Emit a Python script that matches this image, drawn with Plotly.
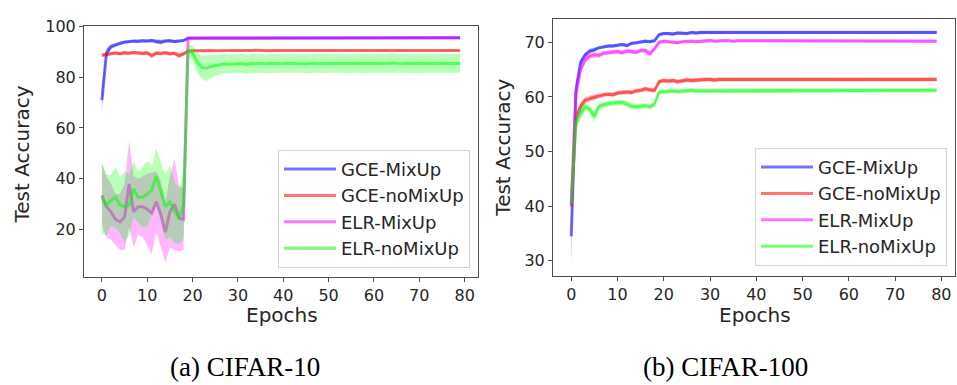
import numpy as np
import plotly.graph_objects as go

epochs = list(range(80))
x_ticks = [0, 10, 20, 30, 40, 50, 60, 70, 80]
c10_y_ticks = [20, 40, 60, 80, 100]
c100_y_ticks = [30, 40, 50, 60, 70]
series_names = ["GCE-MixUp", "GCE-noMixUp", "ELR-MixUp", "ELR-noMixUp"]

# ---------------- CIFAR-10 (mean and std over runs) ----------------
c10_gce_mix = [
    71.0, 89.5, 92.0, 92.8, 93.3, 93.8, 94.0, 94.2, 94.1, 94.3,
    94.2, 94.4, 94.0, 93.8, 94.2, 94.3, 94.0, 94.3, 94.4, 95.3,
    95.3, 95.4, 95.4, 95.3, 95.4, 95.4, 95.5, 95.4, 95.4, 95.5,
    95.4, 95.5, 95.5, 95.4, 95.5, 95.5, 95.4, 95.5, 95.5, 95.5,
    95.4, 95.5, 95.5, 95.5, 95.5, 95.4, 95.5, 95.5, 95.5, 95.5,
    95.5, 95.4, 95.5, 95.5, 95.5, 95.5, 95.5, 95.5, 95.4, 95.5,
    95.5, 95.5, 95.5, 95.5, 95.5, 95.5, 95.4, 95.5, 95.5, 95.5,
    95.5, 95.5, 95.5, 95.4, 95.5, 95.5, 95.5, 95.5, 95.5, 95.5,
]
c10_gce_mix_std = [
    4.5, 2.0, 1.0, 0.8, 0.7, 0.6, 0.6, 0.6, 0.7, 0.6,
    0.6, 0.7, 0.8, 0.9, 0.6, 0.6, 0.6, 0.5, 0.5, 0.3,
    0.3, 0.3, 0.3, 0.3, 0.3, 0.3, 0.3, 0.3, 0.3, 0.3,
    0.3, 0.3, 0.3, 0.3, 0.3, 0.3, 0.3, 0.3, 0.3, 0.3,
    0.3, 0.3, 0.3, 0.3, 0.3, 0.3, 0.3, 0.3, 0.3, 0.3,
    0.3, 0.3, 0.3, 0.3, 0.3, 0.3, 0.3, 0.3, 0.3, 0.3,
    0.3, 0.3, 0.3, 0.3, 0.3, 0.3, 0.3, 0.3, 0.3, 0.3,
    0.3, 0.3, 0.3, 0.3, 0.3, 0.3, 0.3, 0.3, 0.3, 0.3,
]
c10_gce_nomix = [
    88.6, 89.0, 89.3, 89.5, 89.2, 89.6, 89.4, 89.7, 89.5, 89.3,
    89.6, 88.4, 89.5, 89.3, 89.6, 89.2, 89.4, 88.5, 89.2, 90.2,
    90.4, 90.5, 90.3, 90.4, 90.5, 90.4, 90.5, 90.5, 90.4, 90.5,
    90.5, 90.4, 90.5, 90.5, 90.6, 90.5, 90.5, 90.4, 90.5, 90.5,
    90.5, 90.5, 90.6, 90.5, 90.5, 90.5, 90.4, 90.5, 90.5, 90.5,
    90.6, 90.5, 90.5, 90.5, 90.5, 90.4, 90.5, 90.5, 90.6, 90.5,
    90.5, 90.5, 90.5, 90.5, 90.4, 90.5, 90.5, 90.5, 90.5, 90.6,
    90.5, 90.5, 90.5, 90.5, 90.5, 90.4, 90.5, 90.5, 90.5, 90.5,
]
c10_gce_nomix_std = [
    0.7, 0.8, 0.7, 0.6, 0.7, 0.8, 0.7, 0.6, 0.7, 0.8,
    0.7, 1.0, 0.7, 0.8, 0.7, 0.8, 0.7, 1.0, 0.8, 0.4,
    0.3, 0.3, 0.3, 0.3, 0.3, 0.3, 0.3, 0.3, 0.3, 0.3,
    0.3, 0.3, 0.3, 0.3, 0.3, 0.3, 0.3, 0.3, 0.3, 0.3,
    0.3, 0.3, 0.3, 0.3, 0.3, 0.3, 0.3, 0.3, 0.3, 0.3,
    0.3, 0.3, 0.3, 0.3, 0.3, 0.3, 0.3, 0.3, 0.3, 0.3,
    0.3, 0.3, 0.3, 0.3, 0.3, 0.3, 0.3, 0.3, 0.3, 0.3,
    0.3, 0.3, 0.3, 0.3, 0.3, 0.3, 0.3, 0.3, 0.3, 0.3,
]
c10_elr_mix = [
    33.5, 29.0, 27.0, 24.0, 23.0, 25.0, 38.0, 27.0, 29.0, 29.0,
    28.0, 26.5, 31.0, 26.0, 19.0, 27.0, 30.0, 24.5, 24.0, 95.4,
    95.4, 95.5, 95.4, 95.5, 95.5, 95.4, 95.5, 95.5, 95.5, 95.5,
    95.5, 95.5, 95.4, 95.5, 95.5, 95.5, 95.5, 95.5, 95.5, 95.5,
    95.5, 95.5, 95.5, 95.5, 95.4, 95.5, 95.5, 95.5, 95.5, 95.5,
    95.5, 95.5, 95.5, 95.5, 95.5, 95.5, 95.5, 95.4, 95.5, 95.5,
    95.5, 95.5, 95.5, 95.5, 95.5, 95.5, 95.5, 95.5, 95.5, 95.4,
    95.5, 95.5, 95.5, 95.5, 95.5, 95.5, 95.5, 95.5, 95.5, 95.5,
]
c10_elr_mix_std = [
    12.0, 12.0, 11.0, 10.0, 11.0, 13.0, 17.0, 14.0, 11.0, 12.0,
    14.0, 16.0, 12.0, 13.0, 12.0, 14.0, 18.0, 13.0, 12.0, 0.4,
    0.3, 0.3, 0.3, 0.3, 0.3, 0.3, 0.3, 0.3, 0.3, 0.3,
    0.3, 0.3, 0.3, 0.3, 0.3, 0.3, 0.3, 0.3, 0.3, 0.3,
    0.3, 0.3, 0.3, 0.3, 0.3, 0.3, 0.3, 0.3, 0.3, 0.3,
    0.3, 0.3, 0.3, 0.3, 0.3, 0.3, 0.3, 0.3, 0.3, 0.3,
    0.3, 0.3, 0.3, 0.3, 0.3, 0.3, 0.3, 0.3, 0.3, 0.3,
    0.3, 0.3, 0.3, 0.3, 0.3, 0.3, 0.3, 0.3, 0.3, 0.3,
]
c10_elr_nomix = [
    32.7, 29.6, 31.5, 32.7, 29.6, 29.0, 29.6, 36.0, 32.7, 32.7,
    34.0, 35.4, 41.0, 34.6, 29.0, 31.0, 27.0, 25.0, 29.6, 90.5,
    89.5, 86.0, 83.8, 83.5, 84.2, 84.6, 84.8, 85.3, 85.0, 85.2,
    85.4, 85.3, 85.0, 85.4, 85.3, 85.5, 85.2, 85.4, 85.3, 85.4,
    85.3, 85.5, 85.4, 85.3, 85.4, 85.2, 85.4, 85.5, 85.3, 85.4,
    85.4, 85.3, 85.5, 85.4, 85.3, 85.4, 85.5, 85.4, 85.3, 85.4,
    85.5, 85.4, 85.3, 85.4, 85.6, 85.4, 85.3, 85.5, 85.4, 85.3,
    85.4, 85.5, 85.4, 85.3, 85.4, 85.5, 85.4, 85.3, 85.4, 85.4,
]
c10_elr_nomix_std = [
    14.0, 12.0, 10.0, 12.0, 11.0, 14.0, 12.0, 11.0, 10.0, 12.0,
    13.0, 10.0, 11.0, 12.0, 13.0, 14.0, 12.0, 11.0, 13.0, 2.5,
    3.0, 4.0, 4.5, 5.0, 4.5, 4.0, 3.8, 3.7, 3.7, 3.8,
    3.7, 3.8, 3.7, 3.7, 3.8, 3.7, 3.7, 3.8, 3.7, 3.7,
    3.7, 3.8, 3.7, 3.7, 3.7, 3.8, 3.7, 3.7, 3.8, 3.7,
    3.7, 3.7, 3.8, 3.7, 3.7, 3.7, 3.8, 3.7, 3.7, 3.7,
    3.8, 3.7, 3.7, 3.7, 3.8, 3.7, 3.7, 3.7, 3.8, 3.7,
    3.7, 3.7, 3.8, 3.7, 3.7, 3.7, 3.8, 3.7, 3.7, 3.7,
]

# ---------------- CIFAR-100 (mean and std over runs) ----------------
c100_gce_mix = [
    34.5, 61.2, 66.3, 67.7, 68.4, 68.6, 69.0, 69.2, 69.3, 69.3,
    69.5, 69.6, 69.4, 69.8, 69.9, 70.0, 70.2, 70.1, 70.3, 71.4,
    71.6, 71.6, 71.5, 71.7, 71.7, 71.6, 71.8, 71.7, 71.8, 71.8,
    71.8, 71.7, 71.8, 71.8, 71.8, 71.7, 71.8, 71.8, 71.7, 71.8,
    71.8, 71.8, 71.8, 71.7, 71.8, 71.8, 71.8, 71.8, 71.8, 71.7,
    71.8, 71.8, 71.8, 71.8, 71.7, 71.8, 71.8, 71.8, 71.8, 71.8,
    71.8, 71.7, 71.8, 71.8, 71.8, 71.8, 71.8, 71.7, 71.8, 71.8,
    71.8, 71.8, 71.8, 71.8, 71.8, 71.7, 71.8, 71.8, 71.8, 71.8,
]
c100_gce_mix_std = [
    5.0, 1.2, 0.6, 0.4, 0.4, 0.4, 0.3, 0.3, 0.3, 0.3,
    0.3, 0.3, 0.3, 0.3, 0.3, 0.3, 0.3, 0.3, 0.3, 0.3,
    0.3, 0.3, 0.3, 0.3, 0.3, 0.3, 0.3, 0.3, 0.3, 0.3,
    0.3, 0.3, 0.3, 0.3, 0.3, 0.3, 0.3, 0.3, 0.3, 0.3,
    0.3, 0.3, 0.3, 0.3, 0.3, 0.3, 0.3, 0.3, 0.3, 0.3,
    0.3, 0.3, 0.3, 0.3, 0.3, 0.3, 0.3, 0.3, 0.3, 0.3,
    0.3, 0.3, 0.3, 0.3, 0.3, 0.3, 0.3, 0.3, 0.3, 0.3,
    0.3, 0.3, 0.3, 0.3, 0.3, 0.3, 0.3, 0.3, 0.3, 0.3,
]
c100_gce_nomix = [
    40.0, 55.9, 58.2, 59.4, 59.7, 60.0, 60.2, 60.4, 60.5, 60.4,
    60.7, 60.8, 60.9, 60.8, 61.1, 61.2, 61.5, 61.3, 61.2, 62.8,
    63.0, 62.9, 63.0, 62.8, 63.0, 63.1, 63.0, 63.1, 63.1, 63.2,
    63.2, 63.1, 63.2, 63.2, 63.2, 63.1, 63.2, 63.2, 63.2, 63.2,
    63.1, 63.2, 63.2, 63.2, 63.2, 63.2, 63.1, 63.2, 63.2, 63.2,
    63.2, 63.2, 63.2, 63.1, 63.2, 63.2, 63.2, 63.2, 63.2, 63.2,
    63.1, 63.2, 63.2, 63.2, 63.2, 63.2, 63.2, 63.1, 63.2, 63.2,
    63.2, 63.2, 63.2, 63.2, 63.1, 63.2, 63.2, 63.2, 63.2, 63.2,
]
c100_gce_nomix_std = [
    1.0, 1.2, 0.8, 0.6, 0.5, 0.5, 0.4, 0.4, 0.4, 0.4,
    0.4, 0.4, 0.4, 0.4, 0.4, 0.4, 0.4, 0.4, 0.4, 0.4,
    0.4, 0.4, 0.4, 0.4, 0.4, 0.4, 0.4, 0.4, 0.4, 0.4,
    0.4, 0.4, 0.4, 0.4, 0.4, 0.4, 0.4, 0.4, 0.4, 0.4,
    0.4, 0.4, 0.4, 0.4, 0.4, 0.4, 0.4, 0.4, 0.4, 0.4,
    0.4, 0.4, 0.4, 0.4, 0.4, 0.4, 0.4, 0.4, 0.4, 0.4,
    0.4, 0.4, 0.4, 0.4, 0.4, 0.4, 0.4, 0.4, 0.4, 0.4,
    0.4, 0.4, 0.4, 0.4, 0.4, 0.4, 0.4, 0.4, 0.4, 0.4,
]
c100_elr_mix = [
    40.5, 60.5, 65.0, 66.8, 67.5, 67.7, 67.6, 68.0, 68.1, 68.2,
    68.3, 68.1, 68.4, 68.3, 68.2, 68.5, 68.5, 67.9, 68.8, 70.0,
    70.2, 70.1, 70.0, 69.9, 70.1, 70.2, 70.2, 70.1, 70.2, 70.3,
    70.3, 70.2, 70.3, 70.3, 70.3, 70.2, 70.3, 70.3, 70.3, 70.3,
    70.2, 70.3, 70.3, 70.3, 70.3, 70.3, 70.2, 70.3, 70.3, 70.3,
    70.3, 70.3, 70.2, 70.3, 70.3, 70.3, 70.3, 70.3, 70.3, 70.2,
    70.3, 70.3, 70.3, 70.3, 70.2, 70.3, 70.3, 70.3, 70.2, 70.3,
    70.3, 70.3, 70.2, 70.3, 70.3, 70.3, 70.3, 70.3, 70.3, 70.2,
]
c100_elr_mix_std = [
    1.0, 1.2, 0.8, 0.6, 0.5, 0.5, 0.4, 0.4, 0.4, 0.4,
    0.4, 0.4, 0.4, 0.4, 0.4, 0.4, 0.4, 0.5, 0.4, 0.4,
    0.3, 0.3, 0.3, 0.3, 0.3, 0.3, 0.3, 0.3, 0.3, 0.3,
    0.3, 0.3, 0.3, 0.3, 0.3, 0.3, 0.3, 0.3, 0.3, 0.3,
    0.3, 0.3, 0.3, 0.3, 0.3, 0.3, 0.3, 0.3, 0.3, 0.3,
    0.3, 0.3, 0.3, 0.3, 0.3, 0.3, 0.3, 0.3, 0.3, 0.3,
    0.3, 0.3, 0.3, 0.3, 0.3, 0.3, 0.3, 0.3, 0.3, 0.3,
    0.3, 0.3, 0.3, 0.3, 0.3, 0.3, 0.3, 0.3, 0.3, 0.3,
]
c100_elr_nomix = [
    40.5, 55.2, 57.0, 58.2, 57.7, 56.4, 58.3, 58.6, 58.8, 58.9,
    59.0, 59.0, 58.7, 58.3, 58.2, 58.3, 58.4, 58.2, 58.7, 60.9,
    61.0, 61.0, 61.1, 61.0, 61.1, 61.1, 61.2, 61.1, 61.1, 61.2,
    61.2, 61.1, 61.2, 61.2, 61.2, 61.1, 61.2, 61.2, 61.2, 61.2,
    61.1, 61.2, 61.2, 61.2, 61.2, 61.2, 61.1, 61.2, 61.2, 61.2,
    61.2, 61.2, 61.2, 61.1, 61.2, 61.2, 61.2, 61.2, 61.2, 61.2,
    61.1, 61.2, 61.2, 61.2, 61.2, 61.2, 61.2, 61.1, 61.2, 61.2,
    61.2, 61.2, 61.2, 61.2, 61.1, 61.2, 61.2, 61.2, 61.2, 61.2,
]
c100_elr_nomix_std = [
    1.0, 1.5, 1.0, 0.8, 0.7, 1.0, 0.6, 0.5, 0.5, 0.5,
    0.5, 0.5, 0.6, 0.6, 0.5, 0.5, 0.5, 0.5, 0.5, 0.4,
    0.4, 0.4, 0.4, 0.4, 0.4, 0.4, 0.4, 0.4, 0.4, 0.4,
    0.4, 0.4, 0.4, 0.4, 0.4, 0.4, 0.4, 0.4, 0.4, 0.4,
    0.4, 0.4, 0.4, 0.4, 0.4, 0.4, 0.4, 0.4, 0.4, 0.4,
    0.4, 0.4, 0.4, 0.4, 0.4, 0.4, 0.4, 0.4, 0.4, 0.4,
    0.4, 0.4, 0.4, 0.4, 0.4, 0.4, 0.4, 0.4, 0.4, 0.4,
    0.4, 0.4, 0.4, 0.4, 0.4, 0.4, 0.4, 0.4, 0.4, 0.4,
]

colors = {
    "GCE-MixUp": (0, 0, 255),
    "GCE-noMixUp": (255, 0, 0),
    "ELR-MixUp": (255, 0, 255),
    "ELR-noMixUp": (0, 255, 0),
}


def rgba(rgb, a):
    return "rgba(%d,%d,%d,%.2f)" % (rgb[0], rgb[1], rgb[2], a)


fig = go.Figure()


def add_series(name, mean, std, xa, ya, legend, band_alpha=0.28):
    m = np.array(mean)
    s = np.array(std)
    c = colors[name]
    fig.add_trace(go.Scatter(
        x=epochs, y=m - s, mode="lines", line=dict(width=0, color=rgba(c, 0)),
        showlegend=False, hoverinfo="skip", xaxis=xa, yaxis=ya))
    fig.add_trace(go.Scatter(
        x=epochs, y=m + s, mode="lines", line=dict(width=0, color=rgba(c, 0)),
        fill="tonexty", fillcolor=rgba(c, band_alpha),
        showlegend=False, hoverinfo="skip", xaxis=xa, yaxis=ya))
    fig.add_trace(go.Scatter(
        x=epochs, y=m, mode="lines", name=name,
        line=dict(color=rgba(c, 0.55), width=3),
        xaxis=xa, yaxis=ya, legend=legend))


c10 = [
    (c10_gce_mix, c10_gce_mix_std),
    (c10_gce_nomix, c10_gce_nomix_std),
    (c10_elr_mix, c10_elr_mix_std),
    (c10_elr_nomix, c10_elr_nomix_std),
]
c100 = [
    (c100_gce_mix, c100_gce_mix_std),
    (c100_gce_nomix, c100_gce_nomix_std),
    (c100_elr_mix, c100_elr_mix_std),
    (c100_elr_nomix, c100_elr_nomix_std),
]
for name, (m, s) in zip(series_names, c10):
    add_series(name, m, s, "x", "y", "legend")
for name, (m, s) in zip(series_names, c100):
    add_series(name, m, s, "x2", "y2", "legend2")

W, H = 957, 385
FONT = "DejaVu Sans"
TXT = "#262626"
LINE = "#4d4d4d"

axis_common = dict(
    showline=True, mirror=True, linecolor=LINE, linewidth=1,
    ticks="outside", ticklen=4, tickwidth=1, tickcolor=LINE,
    showgrid=False, zeroline=False,
    tickfont=dict(family=FONT, size=16, color=TXT),
)

legend_common = dict(
    bgcolor="rgba(255,255,255,0.85)", bordercolor="#d4d4d4", borderwidth=1,
    font=dict(family=FONT, size=18, color=TXT),
    itemwidth=52, tracegroupgap=0, traceorder="normal",
)

fig.update_layout(
    width=W, height=H,
    margin=dict(l=0, r=0, t=0, b=0),
    paper_bgcolor="white", plot_bgcolor="white",
    xaxis=dict(domain=[84 / W, 478 / W], range=[-3.95, 82.95],
               tickvals=x_ticks, anchor="y", **axis_common),
    yaxis=dict(domain=[1 - 274 / H, 1 - 17 / H], range=[1.5, 100.3],
               tickvals=c10_y_ticks, anchor="x", **axis_common),
    xaxis2=dict(domain=[553 / W, 955 / W], range=[-3.95, 82.95],
                tickvals=x_ticks, anchor="y2", **axis_common),
    yaxis2=dict(domain=[1 - 273 / H, 1 - 10 / H], range=[27.3, 74.3],
                tickvals=c100_y_ticks, anchor="x2", **axis_common),
    legend=dict(x=470 / W, y=1 - 265 / H, xanchor="right", yanchor="bottom",
                **legend_common),
    legend2=dict(x=947 / W, y=1 - 263 / H, xanchor="right", yanchor="bottom",
                 **legend_common),
    showlegend=True,
)

annotations = [
    dict(text="Epochs", x=282 / W, y=1 - 313 / H),
    dict(text="Epochs", x=755 / W, y=1 - 313 / H),
    dict(text="Test Accuracy", x=22 / W, y=1 - 149 / H, textangle=-90),
    dict(text="Test Accuracy", x=503 / W, y=1 - 142 / H, textangle=-90),
]
for a in annotations:
    fig.add_annotation(xref="paper", yref="paper", showarrow=False,
                       xanchor="center", yanchor="middle",
                       font=dict(family=FONT, size=20, color=TXT), **a)

for text, cx in [("(a) CIFAR-10", 245), ("(b) CIFAR-100", 725)]:
    fig.add_annotation(text=text, xref="paper", yref="paper", showarrow=False,
                       x=cx / W, y=1 - 367 / H, xanchor="center", yanchor="middle",
                       font=dict(family="Liberation Serif", size=27, color="black"))

fig.write_html("out.html")
